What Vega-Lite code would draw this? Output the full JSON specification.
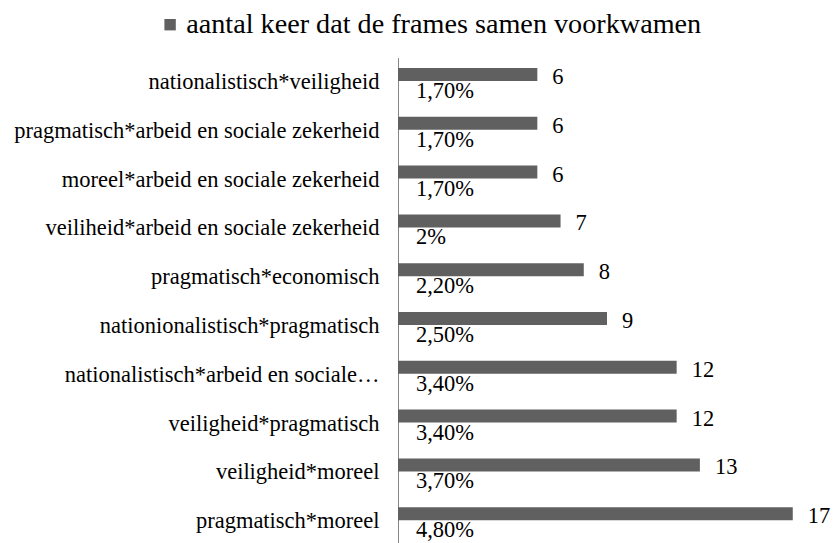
{
  "$schema": "https://vega.github.io/schema/vega-lite/v6.json",
  "autosize": {"type": "none"},
  "padding": {"left": 398, "top": 57.6, "right": 19, "bottom": 0},
  "width": 418,
  "height": 488,
  "background": "white",
  "config": {
    "view": {"stroke": null},
    "font": "Liberation Serif",
    "text": {"font": "Liberation Serif"}
  },
  "data": {
    "values": [
      {"combinatie": "nationalistisch*veiligheid", "aantal": 6, "pct": "1,70%", "reeks": "aantal keer dat de frames samen voorkwamen"},
      {"combinatie": "pragmatisch*arbeid en sociale zekerheid", "aantal": 6, "pct": "1,70%", "reeks": "aantal keer dat de frames samen voorkwamen"},
      {"combinatie": "moreel*arbeid en sociale zekerheid", "aantal": 6, "pct": "1,70%", "reeks": "aantal keer dat de frames samen voorkwamen"},
      {"combinatie": "veiliheid*arbeid en sociale zekerheid", "aantal": 7, "pct": "2%", "reeks": "aantal keer dat de frames samen voorkwamen"},
      {"combinatie": "pragmatisch*economisch", "aantal": 8, "pct": "2,20%", "reeks": "aantal keer dat de frames samen voorkwamen"},
      {"combinatie": "nationionalistisch*pragmatisch", "aantal": 9, "pct": "2,50%", "reeks": "aantal keer dat de frames samen voorkwamen"},
      {"combinatie": "nationalistisch*arbeid en sociale…", "aantal": 12, "pct": "3,40%", "reeks": "aantal keer dat de frames samen voorkwamen"},
      {"combinatie": "veiligheid*pragmatisch", "aantal": 12, "pct": "3,40%", "reeks": "aantal keer dat de frames samen voorkwamen"},
      {"combinatie": "veiligheid*moreel", "aantal": 13, "pct": "3,70%", "reeks": "aantal keer dat de frames samen voorkwamen"},
      {"combinatie": "pragmatisch*moreel", "aantal": 17, "pct": "4,80%", "reeks": "aantal keer dat de frames samen voorkwamen"}
    ]
  },
  "encoding": {
    "y": {
      "field": "combinatie",
      "type": "nominal",
      "sort": null,
      "title": null,
      "scale": {"paddingInner": 0, "paddingOuter": 0},
      "axis": {
        "ticks": false,
        "domainColor": "#868686",
        "domainWidth": 1,
        "labelFont": "Liberation Serif",
        "labelFontSize": 22.5,
        "labelColor": "#000000",
        "labelPadding": 19,
        "labelLimit": 0,
        "grid": false
      }
    }
  },
  "layer": [
    {
      "mark": {"type": "bar", "size": 13, "yOffset": -7.5},
      "encoding": {
        "x": {"field": "aantal", "type": "quantitative", "scale": {"domain": [0, 18], "nice": false}, "axis": null},
        "color": {
          "field": "reeks",
          "type": "nominal",
          "scale": {"range": ["#606060"]},
          "legend": {
            "title": null,
            "orient": "none",
            "legendX": -242,
            "legendY": -47,
            "symbolType": "square",
            "symbolSize": 130,
            "symbolStrokeWidth": 0,
            "labelFont": "Liberation Serif",
            "labelFontSize": 28.2,
            "labelColor": "#000000",
            "labelLimit": 0,
            "labelOffset": 2
          }
        }
      }
    },
    {
      "mark": {"type": "text", "align": "left", "baseline": "middle", "dx": 15, "dy": -5, "fontSize": 22.5, "color": "#000000", "font": "Liberation Serif"},
      "encoding": {
        "x": {"field": "aantal", "type": "quantitative"},
        "text": {"field": "aantal", "type": "quantitative"}
      }
    },
    {
      "mark": {"type": "text", "align": "left", "baseline": "middle", "dx": 18, "dy": 9, "fontSize": 22.5, "color": "#000000", "font": "Liberation Serif"},
      "encoding": {
        "x": {"datum": 0, "type": "quantitative"},
        "text": {"field": "pct", "type": "nominal"}
      }
    }
  ]
}
